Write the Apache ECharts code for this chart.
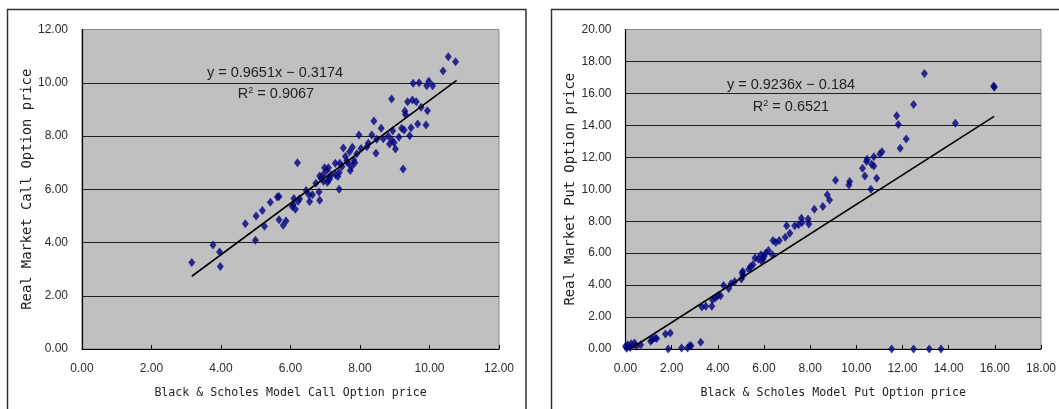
<!DOCTYPE html>
<html>
<head>
<meta charset="utf-8">
<script src="https://cdn.jsdelivr.net/npm/echarts@6/dist/echarts.min.js"></script>
<style>
  html, body { margin: 0; padding: 0; background: #fff; }
  #chart { width: 1059px; height: 409px; }
</style>
</head>
<body>
<div id="chart"></div>
<script>
// Call options: [Black & Scholes model price, real market price]
const callPoints = [
  [3.16, 3.25], [3.77, 3.91], [3.96, 3.64], [3.98, 3.10], [4.70, 4.70],
  [4.99, 4.08], [5.01, 5.00], [5.19, 5.20], [5.25, 4.61], [5.42, 5.51],
  [5.62, 5.71], [5.67, 5.73], [5.67, 4.85], [5.79, 4.65], [5.87, 4.81],
  [6.08, 5.44], [6.10, 5.65], [6.14, 5.25], [6.20, 7.00], [6.26, 5.64],
  [6.22, 5.55], [6.53, 5.79], [6.55, 5.54], [6.63, 5.79], [6.84, 5.59],
  [6.82, 5.90], [6.73, 6.23], [6.84, 6.50], [6.88, 6.41], [6.94, 6.54],
  [6.98, 6.81], [7.04, 6.70], [7.06, 6.26], [7.09, 6.81], [7.13, 6.41],
  [7.17, 6.54], [7.29, 6.98], [7.30, 6.54], [7.36, 6.48], [7.40, 6.63],
  [7.40, 6.00], [7.42, 6.98], [7.52, 7.55], [7.58, 7.23], [7.66, 6.98],
  [7.70, 7.41], [7.72, 6.70], [7.76, 6.85], [7.78, 7.58], [7.82, 7.10],
  [7.85, 7.00], [7.91, 7.33], [7.97, 8.04], [8.03, 7.53], [8.24, 7.73],
  [8.34, 8.04], [8.40, 8.56], [8.46, 7.35], [8.48, 7.88], [8.61, 8.29],
  [8.67, 7.90], [8.81, 8.00], [8.85, 7.70], [8.91, 9.39], [8.92, 7.85],
  [8.94, 8.20], [8.98, 7.75], [9.02, 7.51], [9.12, 7.95], [9.20, 8.29],
  [9.24, 6.76], [9.27, 8.23], [9.29, 8.94], [9.31, 8.81], [9.37, 9.29],
  [9.43, 8.01], [9.47, 8.31], [9.51, 9.35], [9.53, 9.98], [9.62, 9.29],
  [9.66, 8.45], [9.70, 10.00], [9.76, 9.08], [9.90, 8.41], [9.92, 9.89],
  [9.94, 8.95], [9.98, 10.06], [10.09, 9.89], [10.39, 10.44], [10.54, 10.98],
  [10.75, 10.79], [7.48, 6.85], [7.10, 6.35], [6.95, 6.30], [7.62, 7.05],
  [8.20, 7.60], [6.45, 5.95], [6.05, 5.35]
];

// Put options: [Black & Scholes model price, real market price]
const putPoints = [
  [0.00, 0.17], [0.10, 0.27], [0.17, 0.17], [0.25, 0.33], [0.39, 0.38],
  [0.47, 0.17], [0.66, 0.27], [1.09, 0.48], [1.15, 0.58], [1.27, 0.69],
  [1.35, 0.65], [1.73, 0.94], [1.94, 1.00], [1.85, 0.00], [2.43, 0.06],
  [2.69, 0.06], [2.78, 0.21], [2.84, 0.21], [3.26, 0.42], [3.31, 2.63],
  [3.48, 2.67], [3.74, 2.67], [3.77, 3.08], [3.89, 3.19], [4.00, 3.33],
  [4.12, 3.33], [4.25, 3.98], [4.47, 3.79], [4.57, 4.08], [4.73, 4.23],
  [5.02, 4.38], [5.05, 4.75], [5.08, 4.85], [5.34, 5.00], [5.42, 5.17],
  [5.52, 5.27], [5.61, 5.69], [5.75, 5.63], [5.87, 5.90], [5.96, 5.63],
  [6.00, 5.79], [6.07, 6.00], [6.19, 6.17], [6.36, 5.90], [6.39, 6.79],
  [6.51, 6.67], [6.66, 6.79], [6.92, 7.00], [6.98, 7.71], [7.12, 7.25],
  [7.33, 7.71], [7.50, 7.77], [7.62, 8.19], [7.65, 7.92], [7.91, 8.13],
  [7.94, 7.83], [8.18, 8.75], [8.55, 8.92], [8.74, 9.65], [8.84, 9.33],
  [9.10, 10.56], [9.68, 10.27], [9.71, 10.48], [10.27, 11.31], [10.37, 10.83],
  [10.44, 11.73], [10.47, 11.88], [10.63, 10.00], [10.66, 11.56], [10.76, 11.46],
  [10.76, 12.04], [10.88, 10.69], [11.02, 12.21], [11.11, 12.35], [11.53, 0.00],
  [11.75, 14.60], [11.82, 14.06], [11.90, 12.56], [12.16, 13.15], [12.48, 15.31],
  [12.48, 0.00], [12.95, 17.25], [13.16, 0.00], [13.67, 0.00], [14.29, 14.13],
  [15.95, 16.46], [15.98, 16.38], [0.20, 0.10], [0.05, 0.05], [5.10, 4.60],
  [5.90, 5.50]
];

// Linear trend lines as stated on the charts
const callFit = { slope: 0.9651, intercept: -0.3174, r2: '0.9067', xFrom: 3.16, xTo: 10.78 };
const putFit = { slope: 0.9236, intercept: -0.184, r2: '0.6521', xFrom: 0.2, xTo: 15.97 };

// Axis settings
const callXAxis = { min: 0, max: 12, interval: 2 };
const callYAxis = { min: 0, max: 12, interval: 2 };
const putXAxis = { min: 0, max: 18, interval: 2 };
const putYAxis = { min: 0, max: 20, interval: 2 };

const callXTitle = 'Black & Scholes Model Call Option price';
const callYTitle = 'Real Market Call Option price';
const putXTitle = 'Black & Scholes Model Put Option price';
const putYTitle = 'Real Market Put Option price';

function fitLine(fit) {
  return [
    [fit.xFrom, fit.slope * fit.xFrom + fit.intercept],
    [fit.xTo, fit.slope * fit.xTo + fit.intercept]
  ];
}
function eqText(fit) {
  const sign = fit.intercept < 0 ? '\u2212' : '+';
  return 'y = ' + fit.slope + 'x ' + sign + ' ' + Math.abs(fit.intercept);
}

const tickFont = { fontFamily: 'Liberation Sans, Arial, sans-serif', fontSize: 12, color: '#2a2a2a' };
const monoFont = 'DejaVu Sans Mono, Liberation Mono, monospace';

function xAxisCfg(gridIndex, range, title) {
  return {
    type: 'value', gridIndex: gridIndex,
    min: range.min, max: range.max, interval: range.interval,
    name: title, nameLocation: 'middle', nameGap: 38,
    nameTextStyle: { fontFamily: monoFont, fontSize: 11.6, color: '#222' },
    axisLine: { show: true, lineStyle: { color: '#000', width: 1.2 } },
    axisTick: { show: true, inside: true, length: 4, lineStyle: { color: '#000' } },
    axisLabel: Object.assign({ margin: 14, formatter: v => v.toFixed(2) }, tickFont),
    splitLine: { show: false }
  };
}
function yAxisCfg(gridIndex, range, title, gap) {
  return {
    type: 'value', gridIndex: gridIndex,
    min: range.min, max: range.max, interval: range.interval,
    name: title, nameLocation: 'middle', nameGap: gap, nameRotate: 90,
    nameTextStyle: { fontFamily: monoFont, fontSize: 13.8, color: '#222' },
    axisLine: { show: true, lineStyle: { color: '#000', width: 1.2 } },
    axisTick: { show: false },
    axisLabel: Object.assign({ margin: 14, formatter: v => v.toFixed(2) }, tickFont),
    splitLine: { show: true, showMaxLine: false, lineStyle: { color: '#1e1e1e', width: 1 } }
  };
}

const chart = echarts.init(document.getElementById('chart'), null, { renderer: 'canvas' });

const eqStyle = {
  fontFamily: 'Liberation Sans, Arial, sans-serif', fontSize: 14.5, fill: '#222'
};
function r2Text(fit) {
  return {
    type: 'text', z: 50,
    style: {
      text: '{r|R}{s|2}{r| = ' + fit.r2 + '}',
      textAlign: 'center', textVerticalAlign: 'middle',
      rich: {
        r: { fontFamily: eqStyle.fontFamily, fontSize: 14.5, fill: '#222', color: '#222' },
        s: { fontFamily: eqStyle.fontFamily, fontSize: 9, fill: '#222', color: '#222', verticalAlign: 'top', padding: [0, 0, 7, 0] }
      }
    }
  };
}

const option = {
  animation: false,
  backgroundColor: '#fff',
  grid: [
    { left: 82, top: 29.5, width: 417, height: 319.5, show: true, backgroundColor: '#c0c0c0', borderColor: '#8a8a8a', borderWidth: 1 },
    { left: 625.5, top: 29.5, width: 416.5, height: 319.5, show: true, backgroundColor: '#c0c0c0', borderColor: '#8a8a8a', borderWidth: 1 }
  ],
  xAxis: [
    xAxisCfg(0, callXAxis, callXTitle),
    xAxisCfg(1, putXAxis, putXTitle)
  ],
  yAxis: [
    yAxisCfg(0, callYAxis, callYTitle, 47),
    yAxisCfg(1, putYAxis, putYTitle, 47)
  ],
  series: [
    {
      type: 'scatter', xAxisIndex: 0, yAxisIndex: 0, data: callPoints,
      symbol: 'diamond', symbolSize: [7, 9], itemStyle: { color: '#000080' }, z: 3
    },
    {
      type: 'line', xAxisIndex: 0, yAxisIndex: 0, data: fitLine(callFit),
      showSymbol: false, lineStyle: { color: '#000', width: 1.6 }, z: 4, silent: true
    },
    {
      type: 'scatter', xAxisIndex: 1, yAxisIndex: 1, data: putPoints,
      symbol: 'diamond', symbolSize: [7, 9], itemStyle: { color: '#000080' }, z: 3
    },
    {
      type: 'line', xAxisIndex: 1, yAxisIndex: 1, data: fitLine(putFit),
      showSymbol: false, clip: true, lineStyle: { color: '#000', width: 1.6 }, z: 4, silent: true
    }
  ],
  graphic: [
    // chart frames
    { type: 'rect', shape: { x: 7.5, y: 9.5, width: 518.5, height: 420 }, style: { fill: 'none', stroke: '#333', lineWidth: 1.5 }, z: -1 },
    { type: 'rect', shape: { x: 551.5, y: 9.5, width: 520, height: 420 }, style: { fill: 'none', stroke: '#333', lineWidth: 1.5 }, z: -1 },
    // trend line equations
    { type: 'text', x: 275, y: 73, z: 50, style: Object.assign({ text: eqText(callFit), textAlign: 'center', textVerticalAlign: 'middle' }, eqStyle) },
    Object.assign(r2Text(callFit), { x: 276, y: 94 }),
    { type: 'text', x: 791, y: 85, z: 50, style: Object.assign({ text: eqText(putFit), textAlign: 'center', textVerticalAlign: 'middle' }, eqStyle) },
    Object.assign(r2Text(putFit), { x: 791, y: 107 })
  ]
};

chart.setOption(option);
</script>
</body>
</html>
